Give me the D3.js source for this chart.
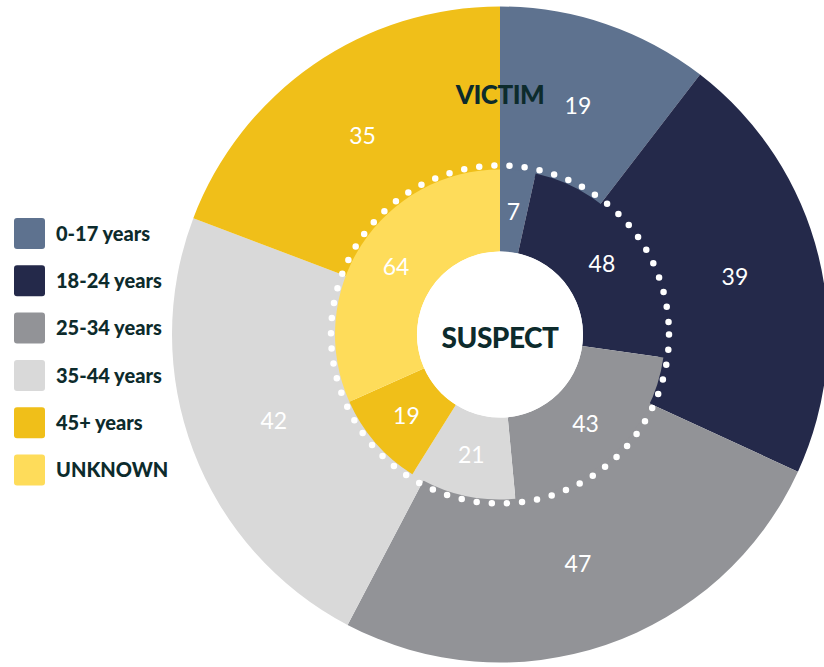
<!DOCTYPE html>
<html>
<head>
<meta charset="utf-8">
<script src="https://cdn.jsdelivr.net/npm/d3@7"></script>
<style>
  body { margin: 0; background: #fff; }
  svg { display: block; font-family: Lato, "Open Sans", sans-serif; }
</style>
</head>
<body>
<svg id="chart" width="824" height="667"></svg>
<script>
// Data
const categories = ["0-17 years", "18-24 years", "25-34 years", "35-44 years", "45+ years", "UNKNOWN"];
const colors = ["#5e728f", "#24294a", "#929397", "#d9d9d9", "#f0bf19", "#fedc5a"];
const victimValues = [19, 39, 47, 42, 35];
const suspectValues = [7, 48, 43, 21, 19, 64];

const cx = 500, cy = 334.5;
const outerR = 328, ringR = 165, holeR = 83, dotR = 169;
const textDark = "#0d2b2c";

const svg = d3.select("#chart");
const color = d3.scaleOrdinal().domain(categories).range(colors);

const pie = d3.pie().sort(null).value(d => d.value);
const g = svg.append("g").attr("transform", `translate(${cx},${cy})`);

// Outer ring (victim)
const victimData = pie(victimValues.map((v, i) => ({cat: categories[i], value: v})));
const outerArc = d3.arc().innerRadius(ringR - 5).outerRadius(outerR);
const outerLabelArc = d3.arc().innerRadius(242).outerRadius(242);

g.selectAll(".outer")
  .data(victimData)
  .enter().append("path")
  .attr("class", "outer")
  .attr("d", outerArc)
  .attr("fill", d => color(d.data.cat));

g.selectAll(".outer-label")
  .data(victimData)
  .enter().append("text")
  .attr("class", "outer-label")
  .attr("transform", d => `translate(${outerLabelArc.centroid(d)})`)
  .attr("text-anchor", "middle")
  .attr("dy", "0.36em")
  .attr("fill", "#fff")
  .attr("font-size", "23px")
  .text(d => d.data.value);

// Inner ring (suspect)
const suspectData = pie(suspectValues.map((v, i) => ({cat: categories[i], value: v})));
const innerArc = d3.arc().innerRadius(holeR).outerRadius(ringR);

g.selectAll(".inner")
  .data(suspectData)
  .enter().append("path")
  .attr("class", "inner")
  .attr("d", innerArc)
  .attr("fill", d => color(d.data.cat));

g.selectAll(".inner-label")
  .data(suspectData)
  .enter().append("text")
  .attr("class", "inner-label")
  .attr("transform", d => `translate(${innerArc.centroid(d)})`)
  .attr("text-anchor", "middle")
  .attr("dy", "0.36em")
  .attr("fill", "#fff")
  .attr("font-size", "23px")
  .text(d => d.data.value);

// center hole
g.append("circle").attr("r", holeR).attr("fill", "#fff");

// dotted ring
g.append("circle")
  .attr("r", dotR)
  .attr("fill", "none")
  .attr("stroke", "#fff")
  .attr("stroke-width", 6.5)
  .attr("stroke-linecap", "round")
  .attr("stroke-dasharray", "0 15.2");

// Titles
g.append("text")
  .attr("y", 338 - cy)
  .attr("dy", "0.36em")
  .attr("text-anchor", "middle")
  .attr("font-weight", 900)
  .attr("font-size", "28px")
  .attr("letter-spacing", "-0.5px")
  .attr("fill", textDark)
  .text("SUSPECT");

g.append("text")
  .attr("y", 95 - cy)
  .attr("dy", "0.36em")
  .attr("text-anchor", "middle")
  .attr("font-weight", 900)
  .attr("font-size", "26px")
  .attr("letter-spacing", "-0.5px")
  .attr("fill", textDark)
  .text("VICTIM");

// Legend
const legend = svg.append("g").attr("transform", "translate(14,218)");
const item = legend.selectAll("g")
  .data(categories)
  .enter().append("g")
  .attr("transform", (d, i) => `translate(0,${i * 47.3})`);

item.append("rect")
  .attr("width", 31)
  .attr("height", 31)
  .attr("rx", 3)
  .attr("fill", d => color(d));

item.append("text")
  .attr("x", 42)
  .attr("y", 15.5)
  .attr("dy", "0.36em")
  .attr("font-weight", 900)
  .attr("font-size", "20px")
  .attr("fill", textDark)
  .text(d => d);
</script>
</body>
</html>
